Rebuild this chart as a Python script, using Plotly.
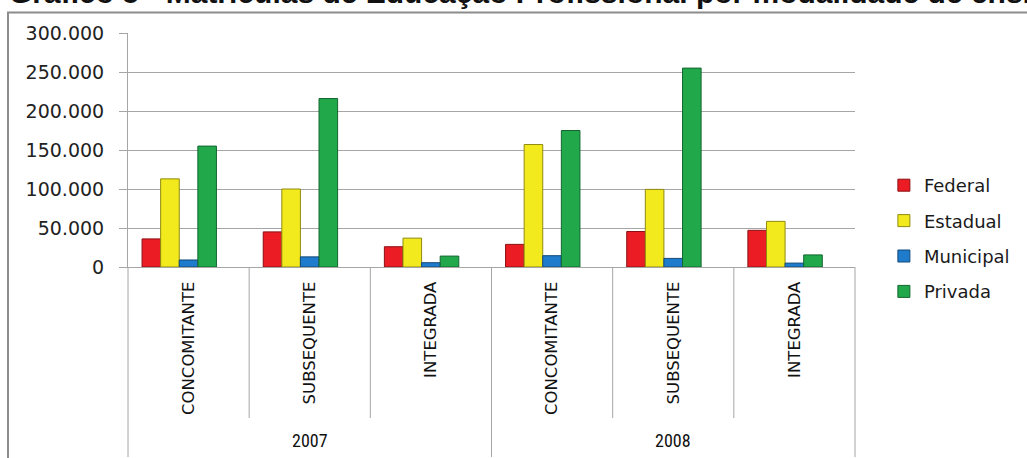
import plotly.graph_objects as go

# Matrículas de Educação Profissional por modalidade de ensino (2007-2008)
anos = ["2007", "2007", "2007", "2008", "2008", "2008"]
modalidades = ["CONCOMITANTE", "SUBSEQUENTE", "INTEGRADA",
               "CONCOMITANTE", "SUBSEQUENTE", "INTEGRADA"]

federal = [36000, 45000, 26000, 29000, 45500, 47000]
estadual = [113000, 100000, 37000, 157000, 99500, 58500]
municipal = [9000, 13000, 5500, 14500, 11000, 5000]
privada = [155000, 216000, 14000, 175000, 255000, 15500]

series_nomes = ["Federal", "Estadual", "Municipal", "Privada"]
y_ticks = [0, 50000, 100000, 150000, 200000, 250000, 300000]

titulo = "Gráfico 5 - Matrículas de Educação Profissional por modalidade de ensino"

cores = ["#ec1c24", "#f2ea1c", "#1f7bcc", "#21a84a"]
bordas = ["#8a1014", "#8f8a10", "#124a7a", "#136630"]

W, H = 1027, 458
L, R, T, B = 128, 169, 33, 191
PW, PH = W - L - R, H - T - B


def px_x(px):
    return (px - L) / PW


def px_y(py):
    return 1 - (py - T) / PH


# one category slot per (year, modality) pair
chaves = [f"{a}-{m}" for a, m in zip(anos, modalidades)]

fig = go.Figure()

bar_w = 0.1535
first_offset = -0.384
for i, (nome, valores) in enumerate(zip(series_nomes, [federal, estadual, municipal, privada])):
    fig.add_trace(go.Bar(
        name=nome,
        x=chaves,
        y=valores,
        width=bar_w,
        offset=first_offset + i * bar_w,
        marker=dict(color=cores[i], line=dict(color=bordas[i], width=1)),
        legendgroup=nome,
    ))

# outer frame of the chart area
shapes = [dict(type="rect", xref="paper", yref="paper",
               x0=px_x(7.5), x1=px_x(1045), y0=px_y(475), y1=px_y(12.5),
               line=dict(color="#8c8c8c", width=2), layer="below")]

# category separators below the axis (longer ones split the years)
n_cat = len(chaves)
for k in range(n_cat + 1):
    bottom = 457 if k % 3 == 0 else 418
    xp = k / n_cat
    shapes.append(dict(type="line", xref="paper", yref="paper",
                       x0=xp, x1=xp, y0=0, y1=px_y(bottom),
                       line=dict(color="#a6a6a6", width=1)))

annotations = [dict(
    text=f"<b>{titulo}</b>", xref="paper", yref="paper",
    x=px_x(7), y=px_y(11), xanchor="left", yanchor="bottom",
    showarrow=False,
    font=dict(family="Liberation Sans", size=30, color="#111111"),
)]

# year labels centred under each group of modalities
for ano in dict.fromkeys(anos):
    grupo = [c for c, a in zip(chaves, anos) if a == ano]
    annotations.append(dict(
        text=ano, xref="x", yref="paper",
        x=grupo[len(grupo) // 2], y=px_y(440),
        xanchor="center", yanchor="middle", showarrow=False,
        font=dict(family="Liberation Sans Narrow, Roboto Condensed, Roboto",
                  size=18, color="#111111"),
    ))

fig.update_layout(
    width=W, height=H,
    margin=dict(l=L, r=R, t=T, b=B, pad=0),
    paper_bgcolor="white", plot_bgcolor="white",
    barmode="overlay",
    separators=",.",
    shapes=shapes,
    annotations=annotations,
    showlegend=True,
    legend=dict(
        x=px_x(887), y=px_y(167), xanchor="left", yanchor="top",
        font=dict(family="DejaVu Sans", size=18, color="#1a1a1a"),
        tracegroupgap=9, traceorder="grouped",
        bgcolor="rgba(0,0,0,0)",
    ),
)

fig.update_xaxes(
    type="category",
    tickvals=chaves,
    ticktext=modalidades,
    tickangle=-90,
    ticks="",
    showline=True, linecolor="#a6a6a6", linewidth=1,
    showgrid=False,
    tickfont=dict(family="DejaVu Sans", size=16.5, color="#111111"),
    ticklabelstandoff=7,
)

fig.update_yaxes(
    range=[0, 300000],
    tickvals=y_ticks,
    tickformat=",d",
    showgrid=True, gridcolor="#a6a6a6", gridwidth=1,
    ticks="outside", ticklen=8, tickcolor="#a6a6a6",
    showline=True, linecolor="#a6a6a6", linewidth=1,
    zeroline=False,
    tickfont=dict(family="DejaVu Sans", size=19, color="#222222"),
    ticklabelstandoff=11,
)

fig.write_html("out.html")
